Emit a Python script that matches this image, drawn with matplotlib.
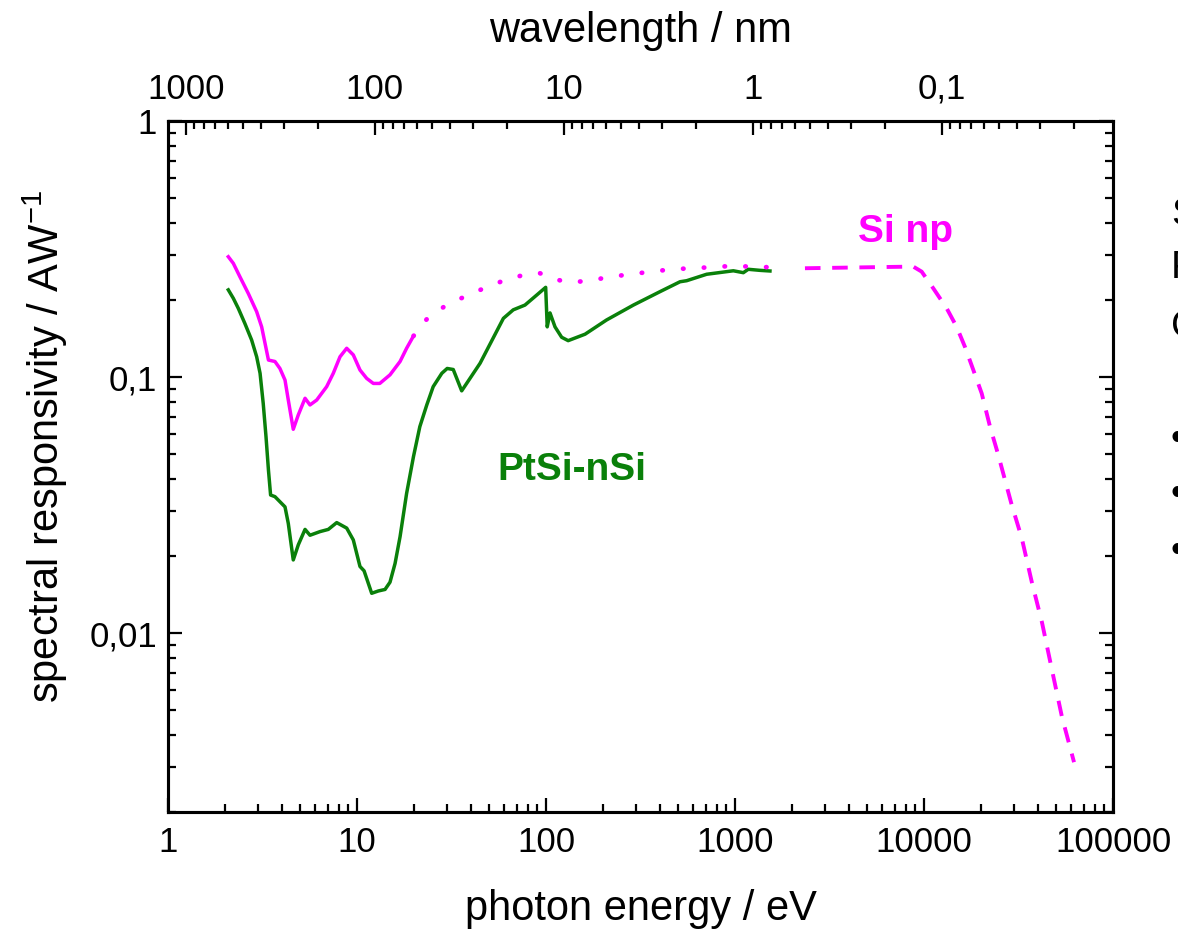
import matplotlib
matplotlib.use("Agg")
import matplotlib.pyplot as plt
from matplotlib.ticker import LogLocator, FuncFormatter, NullFormatter

plt.rcParams["font.family"] = ["Liberation Sans", "DejaVu Sans"]
plt.rcParams["mathtext.fontset"] = "custom"
plt.rcParams["mathtext.rm"] = "Liberation Sans"
plt.rcParams["mathtext.it"] = "Liberation Sans"
plt.rcParams["mathtext.bf"] = "Liberation Sans:bold"

HC = 1239.84  # eV * nm

# ---------------------------------------------------------------------------
# Data
# ---------------------------------------------------------------------------

# PtSi-nSi photodiode
ptsi_energy = [2.085, 2.216, 2.355, 2.55, 2.77, 2.945, 3.07, 3.19, 3.30, 3.40,
               3.49, 3.68, 4.16, 4.33, 4.60, 4.89, 5.31, 5.64, 6.37, 7.05,
               7.81, 8.82, 9.56, 10.37, 10.9, 11.96, 12.97, 14.07, 14.95, 15.9,
               16.9, 18.3, 19.9, 21.5, 23.4, 25.3, 28.1, 30.0, 32.3, 35.8,
               44.8, 59.5, 67.1, 77.4, 89.3, 99.6, 101.5, 105.0, 111.6, 121.0,
               131.0, 161.0, 209.0, 290.0, 401.0, 512.0, 555.0, 708.0, 980.0, 1107.0,
               1175.0, 1356.0, 1531.0]
ptsi_resp = [0.219, 0.203, 0.1854, 0.162, 0.1395, 0.120, 0.1034, 0.0789, 0.0585, 0.0433,
             0.0346, 0.0341, 0.0311, 0.0268, 0.0193, 0.0221, 0.0254, 0.0241, 0.0249, 0.0254,
             0.0270, 0.0257, 0.0231, 0.0182, 0.0175, 0.0143, 0.0146, 0.0148, 0.0158, 0.0187,
             0.0238, 0.0351, 0.0489, 0.064, 0.0778, 0.0917, 0.1034, 0.108, 0.107, 0.0883,
             0.1132, 0.1695, 0.183, 0.191, 0.209, 0.224, 0.157, 0.178, 0.157, 0.143,
             0.1387, 0.147, 0.167, 0.191, 0.2155, 0.2356, 0.2378, 0.252, 0.260, 0.2556,
             0.2635, 0.261, 0.2595]

# Si np photodiode: measured part (solid)
sinp_energy = [2.085, 2.216, 2.404, 2.66, 2.945, 3.13, 3.40, 3.68, 3.91, 4.16,
               4.33, 4.60, 4.89, 5.31, 5.64, 6.12, 6.91, 7.49, 8.13, 8.82,
               9.56, 10.37, 11.25, 12.2, 13.2, 14.95, 16.9, 18.3, 19.9]
sinp_resp = [0.295, 0.278, 0.246, 0.212, 0.180, 0.157, 0.1165, 0.115, 0.108, 0.0973,
             0.0813, 0.0625, 0.0711, 0.0826, 0.0778, 0.0813, 0.0917, 0.1034, 0.120, 0.1295,
             0.122, 0.1065, 0.0988, 0.0944, 0.0944, 0.102, 0.115, 0.1295, 0.1446]

# Si np: dotted part
sinp_mid_energy = [19.9, 23.8, 30.1, 38.8, 48.9, 62.4, 79.0, 92.2, 108.4, 136.8,
                   174.6, 222.7, 284.0, 362.0, 462.0, 590.0, 753.0, 961.0, 1200.0, 1500.0,
                   1840.0]
sinp_mid_resp = [0.1446, 0.171, 0.192, 0.209, 0.225, 0.241, 0.252, 0.255, 0.2415, 0.234,
                 0.239, 0.2465, 0.2525, 0.258, 0.2635, 0.266, 0.2685, 0.2715, 0.270, 0.2685,
                 0.2665]

# Si np: dashed part (high energies)
sinp_high_energy = [2345.0, 8770.0, 9720.0, 11200.0, 13190.0, 14890.0, 16480.0, 18240.0,
                    20200.0, 22350.0, 24640.0, 29100.0, 32900.0, 37200.0, 42100.0,
                    47500.0, 53700.0, 62200.0]
sinp_high_resp = [0.266, 0.270, 0.258, 0.222, 0.1854, 0.157, 0.131, 0.1065,
                  0.0863, 0.064, 0.050, 0.0317, 0.0235, 0.0158, 0.0110,
                  0.0072, 0.0047, 0.00313]

GREEN = "#0a800a"
MAGENTA = "#ff00ff"


def comma_fmt(v, pos):
    return f"{v:g}".replace(".", ",")


fig = plt.figure(figsize=(11.78, 9.35), dpi=100)
ax = fig.add_axes([168 / 1178, 1 - 812 / 935, 945 / 1178, 691 / 935])

ax.plot(ptsi_energy, ptsi_resp, color=GREEN, lw=2.5, zorder=3)
ax.plot(sinp_energy, sinp_resp, color=MAGENTA, lw=2.5, zorder=4)
ax.plot(sinp_mid_energy, sinp_mid_resp, color=MAGENTA, lw=3.4,
        linestyle=(0, (0.1, 4.3)), dash_capstyle="round", zorder=4)
ax.plot(sinp_high_energy, sinp_high_resp, color=MAGENTA, lw=2.8,
        linestyle=(0, (4.0, 3.0)), zorder=4)

ax.set_xscale("log")
ax.set_yscale("log")
ax.set_xlim(1, 1e5)
ax.set_ylim(0.002, 1)

for axis in (ax.xaxis, ax.yaxis):
    axis.set_major_locator(LogLocator(base=10, numticks=20))
    axis.set_minor_locator(LogLocator(base=10, subs=range(2, 10), numticks=100))
    axis.set_major_formatter(FuncFormatter(comma_fmt))
    axis.set_minor_formatter(NullFormatter())

ax.tick_params(which="both", direction="in", top=False, right=True,
               width=1.6, labelsize=25)
ax.tick_params(which="major", length=10)
ax.tick_params(which="minor", length=5.5)
ax.tick_params(axis="x", pad=10)
ax.tick_params(axis="y", pad=8)

# wavelength axis on top
ax2 = ax.twiny()
ax2.set_xscale("log")
ax2.set_xlim(HC / 1, HC / 1e5)
ax2.xaxis.set_major_locator(LogLocator(base=10, numticks=20))
ax2.xaxis.set_minor_locator(LogLocator(base=10, subs=range(2, 10), numticks=100))
ax2.xaxis.set_major_formatter(FuncFormatter(comma_fmt))
ax2.xaxis.set_minor_formatter(NullFormatter())
ax2.tick_params(axis="x", which="both", direction="in", top=True, bottom=False,
                width=1.6, labelsize=25, pad=11)
ax2.tick_params(axis="x", which="major", length=10)
ax2.tick_params(axis="x", which="minor", length=5.5)

for a in (ax, ax2):
    for sp in a.spines.values():
        sp.set_linewidth(2.2)

ax.set_xlabel("photon energy / eV", fontsize=30, labelpad=22)
ax2.set_xlabel("wavelength / nm", fontsize=30, labelpad=22)
fig.text(45 / 1178, 1 - 447 / 935, r"spectral responsivity / AW$^{\mathrm{-1}}$",
         rotation=90, ha="center", va="center", fontsize=30)

ax.text(55.0, 0.0433, "PtSi-nSi", color=GREEN, fontsize=28, fontweight="bold",
        ha="left", va="center")
ax.text(4477, 0.368, "Si np", color=MAGENTA, fontsize=28, fontweight="bold",
        ha="left", va="center")

# fragments of slide text cut off at the right edge, as in the source slide
for ch, ypix in [("S", 215), ("P", 268), ("C", 327), ("•", 440), ("•", 495), ("•", 552)]:
    fig.text(1171 / 1178, 1 - ypix / 935, ch, fontsize=28, ha="left", va="center")

fig.savefig("out.png", dpi=100)
